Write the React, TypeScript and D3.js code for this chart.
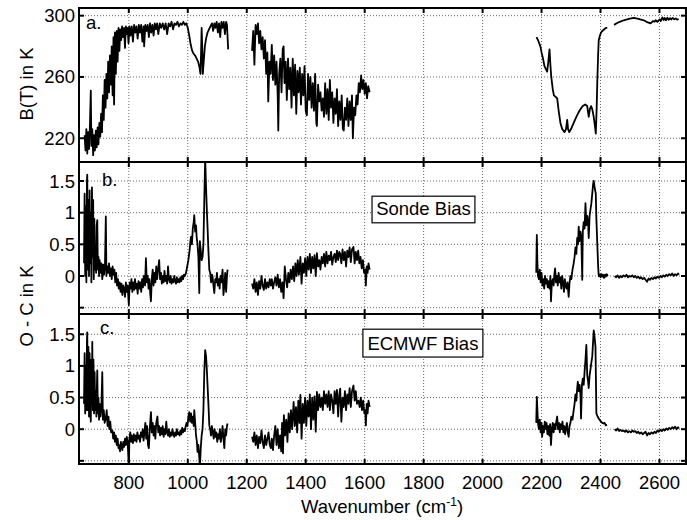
import * as d3 from "d3";

type P = [number, number];

const xTicks = [800, 1000, 1200, 1400, 1600, 1800, 2000, 2200, 2400, 2600];
const btTicks = [220, 260, 300];
const biasTicks = [-0.5, 0, 0.5, 1, 1.5];
const biasTickLabels = ["", "0", "0.5", "1", "1.5"];

// panel a: brightness temperature
const btSeg1: P[] = [[650,222],[653,212],[656,226],[659,210],[662,224],[665,213],[668,228],[671,251],[673,215],[676,226],[679,209],[682,222],[685,212],[688,225],[691,214],[694,227],[697,216],[700,230],[703,221],[706,236],[709,224],[712,248],[715,232],[718,258],[721,240],[724,262],[727,246],[730,270],[733,250],[736,274],[739,255],[742,280],[745,248],[748,286],[750,242],[753,289],[756,262],[759,290],[762,270],[765,292],[768,277],[771,291],[774,284],[777,293],[780,286],[784,292],[787,279],[790,293],[793,288],[796,292],[799,282],[802,293],[806,287],[810,293],[814,283],[818,294],[822,289],[826,293],[830,285],[834,294],[838,289],[842,294],[846,283],[850,293],[852,280],[856,294],[860,290],[864,294],[868,286],[872,295],[876,289],[880,294],[884,287],[888,295],[892,291],[896,295],[900,288],[905,295],[910,292],[915,295],[920,291],[925,295],[930,288],[935,295],[940,293],[945,296],[950,291],[955,295],[960,294],[965,296],[970,293],[975,295],[980,294],[985,296],[990,294],[995,295],[1000,292],[1005,287],[1010,281],[1015,277],[1020,275],[1025,274],[1030,272],[1035,270],[1040,266],[1043,262],[1045,275],[1047,292],[1049,280],[1051,262],[1054,270],[1058,280],[1062,285],[1067,289],[1072,291],[1077,293],[1082,295],[1086,290],[1090,295],[1094,292],[1098,296],[1102,289],[1106,295],[1110,286],[1114,296],[1118,292],[1122,296],[1126,288],[1130,296],[1133,294],[1137,278]];
const btSeg2: P[] = [[1218,277],[1222,290],[1226,268],[1230,294],[1234,288],[1238,295],[1242,282],[1246,290],[1250,278],[1254,286],[1258,272],[1262,284],[1266,262],[1270,276],[1273,244],[1277,270],[1281,262],[1285,281],[1289,258],[1293,274],[1297,255],[1301,270],[1305,248],[1307,225],[1310,262],[1314,272],[1318,250],[1322,278],[1325,280],[1328,256],[1332,270],[1336,245],[1340,272],[1344,252],[1348,266],[1352,240],[1356,272],[1360,248],[1364,268],[1368,236],[1372,264],[1376,250],[1380,266],[1384,242],[1388,262],[1392,248],[1396,267],[1400,238],[1404,235],[1408,262],[1412,245],[1416,260],[1420,240],[1424,256],[1428,238],[1432,262],[1436,230],[1438,228],[1442,255],[1446,244],[1450,250],[1454,238],[1458,246],[1462,234],[1466,256],[1470,236],[1474,252],[1478,232],[1482,258],[1486,240],[1490,250],[1494,230],[1498,246],[1502,236],[1506,252],[1510,228],[1514,244],[1518,232],[1522,248],[1526,226],[1529,225],[1533,240],[1537,232],[1541,246],[1545,228],[1549,244],[1553,232],[1557,248],[1560,220],[1564,240],[1568,235],[1572,248],[1576,242],[1580,256],[1584,250],[1588,261],[1592,252],[1596,258],[1600,249],[1604,256],[1608,246],[1612,254],[1617,250]];
const btSeg3a: P[] = [[2183,286],[2188,284],[2192,282],[2196,280],[2200,276],[2205,272],[2210,267],[2215,265],[2219,263.5],[2223,270],[2227,278],[2230,268],[2233,260],[2238,252],[2242,248],[2248,247],[2253,246],[2258,238],[2264,230],[2270,226],[2278,224],[2283,226],[2287,232],[2290,226],[2294,224],[2300,226],[2309,230],[2318,234],[2326,237],[2332,239],[2340,241],[2348,242],[2355,241],[2360,234],[2364,239],[2368,241],[2372,239],[2377,234],[2381,228],[2384,223],[2387,240],[2389,256],[2392,275],[2394,284],[2398,287],[2402,289],[2406,290],[2412,291],[2418,292],[2423,292]];
const btSeg3b: P[] = [[2446,294],[2455,295],[2465,296],[2479,297],[2490,297.5],[2500,298],[2513,298.5],[2525,298],[2535,297.5],[2547,297],[2556,296],[2563,295.5],[2570,295],[2578,296.5],[2583,296],[2587,297],[2593,296],[2600,297.5],[2604,296.5],[2610,298.8],[2614,297.2],[2618,298.5],[2622,297],[2627,298.6],[2631,297.3],[2636,298.4],[2640,297.5],[2645,298.5],[2650,297.6],[2655,298.2],[2660,297.4],[2665,297.8]];

// panel b: O - C, sonde
const sondeSeg1: P[] = [[648,0.2],[650,1.3],[652,0.0],[654,1.1],[656,-0.1],[658,1.5],[659,1.6],[661,0.1],[663,1.2],[665,0.0],[667,1.35],[669,0.2],[671,1.0],[673,-0.1],[675,1.4],[677,0.3],[679,1.2],[681,-0.05],[683,0.9],[685,0.1],[687,0.3],[689,0.05],[691,0.8],[693,0.88],[695,0.1],[697,0.3],[699,0.0],[701,0.25],[704,0.05],[707,0.2],[710,-0.05],[713,0.18],[716,0.02],[719,0.15],[722,0.94],[724,0.0],[727,0.15],[730,0.05],[733,0.2],[736,0.0],[739,0.12],[742,-0.05],[745,0.15],[748,0.02],[751,0.1],[754,-0.1],[757,0.05],[760,-0.15],[763,-0.05],[766,-0.2],[769,-0.1],[772,-0.25],[775,-0.12],[778,-0.3],[781,-0.15],[784,-0.2],[787,-0.33],[790,-0.1],[793,-0.25],[796,-0.15],[800,-0.46],[803,-0.1],[806,-0.2],[809,-0.05],[812,-0.25],[815,-0.1],[818,-0.22],[821,-0.05],[824,-0.2],[827,-0.12],[830,-0.28],[833,-0.08],[836,-0.2],[839,-0.1],[842,-0.25],[845,-0.05],[848,-0.18],[851,0.0],[855,-0.15],[858,0.28],[861,-0.1],[864,0.0],[867,-0.2],[870,-0.05],[873,-0.3],[875,-0.4],[878,-0.05],[881,0.1],[884,-0.15],[887,0.05],[890,-0.1],[893,0.15],[896,-0.05],[899,0.1],[903,0.25],[906,-0.05],[909,0.05],[912,-0.12],[915,0.0],[918,-0.1],[921,0.08],[924,-0.08],[927,0.0],[930,-0.12],[933,0.15],[936,-0.05],[939,-0.1],[942,0.0],[945,-0.12],[948,-0.05],[951,-0.1],[954,0.0],[957,-0.08],[960,-0.12],[963,-0.02],[966,-0.1],[969,-0.05],[972,-0.1],[975,-0.02],[978,-0.08],[981,0.0],[984,-0.05],[987,0.02],[990,0.0],[994,0.05],[998,0.15],[1002,0.25],[1006,0.4],[1009,0.55],[1011,0.62],[1014,0.5],[1017,0.75],[1020,0.85],[1022,0.96],[1025,0.7],[1028,0.8],[1030,0.62],[1033,0.5],[1036,0.3],[1039,-0.27],[1041,0.55],[1044,0.4],[1047,0.25],[1050,0.3],[1053,0.5],[1056,1.2],[1059,1.85],[1062,1.4],[1065,1.0],[1067,0.78],[1070,0.4],[1073,0.1],[1076,0.05],[1079,-0.1],[1082,0.02],[1084,-0.01],[1087,-0.15],[1090,-0.27],[1093,-0.05],[1096,-0.1],[1099,0.05],[1102,-0.15],[1105,-0.05],[1108,-0.2],[1111,0.0],[1114,-0.1],[1118,0.1],[1121,-0.3],[1124,-0.15],[1127,0.05],[1130,-0.25],[1133,0.0],[1135,0.1]];
const sondeSeg2: P[] = [[1218,-0.12],[1222,-0.2],[1226,-0.05],[1230,-0.25],[1234,-0.1],[1238,-0.3],[1242,-0.08],[1246,-0.2],[1250,0.0],[1254,-0.15],[1258,-0.22],[1262,-0.05],[1266,-0.2],[1270,-0.1],[1274,-0.18],[1278,-0.05],[1282,-0.15],[1285,-0.05],[1289,-0.2],[1293,-0.1],[1297,-0.02],[1301,-0.15],[1305,0.02],[1309,-0.18],[1313,-0.05],[1317,-0.25],[1321,-0.1],[1325,-0.35],[1329,0.15],[1333,-0.05],[1337,-0.18],[1341,0.05],[1345,-0.1],[1349,0.1],[1353,-0.05],[1357,0.15],[1361,-0.08],[1365,0.2],[1369,0.0],[1373,0.25],[1377,0.02],[1382,0.3],[1386,-0.12],[1390,0.2],[1394,0.05],[1398,0.28],[1402,0.0],[1406,0.3],[1410,0.1],[1414,0.35],[1418,0.05],[1422,0.3],[1426,0.12],[1430,0.33],[1434,0.0],[1438,0.36],[1442,0.15],[1446,0.25],[1450,0.1],[1454,0.3],[1458,0.2],[1462,0.35],[1466,0.15],[1470,0.38],[1474,0.2],[1478,0.32],[1482,0.25],[1486,0.38],[1490,0.18],[1494,0.3],[1498,0.35],[1502,0.22],[1506,0.4],[1510,0.25],[1514,0.38],[1517,0.35],[1521,0.2],[1525,0.42],[1529,0.25],[1533,0.38],[1537,0.15],[1541,0.4],[1545,0.3],[1549,0.45],[1553,0.22],[1557,0.42],[1562,0.46],[1566,0.2],[1570,0.38],[1574,0.25],[1578,0.4],[1582,0.2],[1586,0.3],[1590,0.12],[1594,0.25],[1598,0.05],[1602,0.1],[1604,-0.15],[1607,0.15],[1610,0.05],[1613,0.2],[1617,0.1]];
const sondeSeg3a: P[] = [[2182,0.05],[2184,0.65],[2186,0.2],[2188,0.0],[2191,-0.05],[2194,0.1],[2197,-0.1],[2200,0.05],[2203,-0.15],[2206,-0.05],[2209,-0.2],[2212,0.0],[2215,-0.12],[2218,-0.05],[2221,-0.18],[2224,-0.08],[2227,-0.2],[2230,0.0],[2232,-0.4],[2235,-0.1],[2238,-0.05],[2241,-0.15],[2244,0.05],[2246,0.12],[2249,-0.1],[2252,0.0],[2255,-0.15],[2258,0.05],[2261,-0.1],[2264,-0.02],[2267,-0.2],[2270,0.0],[2273,-0.1],[2276,-0.25],[2279,-0.05],[2282,-0.15],[2285,-0.2],[2288,-0.1],[2292,-0.33],[2295,-0.1],[2298,0.0],[2301,-0.05],[2305,0.1],[2309,0.2],[2312,0.3],[2315,0.45],[2318,0.35],[2321,0.6],[2324,0.5],[2326,0.78],[2329,0.55],[2332,0.7],[2335,0.6],[2338,-0.06],[2340,0.7],[2343,0.85],[2346,0.75],[2349,1.15],[2352,0.8],[2355,0.95],[2358,0.85],[2360,0.6],[2363,0.95],[2366,1.05],[2369,1.15],[2372,1.3],[2375,1.45],[2377,1.5],[2380,1.4],[2384,1.3],[2386,0.9],[2389,0.52],[2392,0.15],[2394,0.0],[2397,0.02],[2400,-0.02],[2403,0.03],[2406,-0.01],[2409,0.02],[2412,-0.03],[2415,0.02],[2418,-0.01],[2421,0.03],[2425,0.0]];
const sondeSeg3b: P[] = [[2448,0.0],[2453,-0.02],[2458,0.01],[2463,-0.03],[2468,0.0],[2473,-0.02],[2478,0.01],[2483,-0.01],[2488,0.02],[2493,-0.02],[2498,0.0],[2503,-0.01],[2508,0.01],[2513,-0.02],[2518,0.0],[2523,-0.03],[2528,-0.01],[2533,-0.04],[2538,-0.02],[2543,-0.05],[2548,-0.03],[2553,-0.06],[2558,-0.09],[2563,-0.04],[2568,-0.06],[2573,-0.03],[2578,-0.05],[2583,-0.02],[2588,-0.04],[2593,-0.01],[2598,-0.03],[2603,0.0],[2608,-0.02],[2613,0.01],[2618,-0.01],[2623,0.02],[2628,0.0],[2633,0.03],[2638,0.01],[2643,0.04],[2648,0.0],[2653,0.03],[2658,0.01],[2663,0.04],[2666,0.02]];

// panel c: O - C, ECMWF
const ecmwfSeg1: P[] = [[648,0.4],[650,1.2],[652,0.25],[654,1.0],[656,0.3],[658,1.4],[659,1.53],[661,0.3],[663,1.3],[665,0.2],[667,1.2],[669,0.35],[671,0.12],[673,1.1],[675,0.4],[676,1.38],[678,0.3],[680,1.1],[682,0.25],[684,0.9],[686,0.3],[688,0.6],[690,0.2],[692,0.75],[693,0.93],[695,0.25],[697,0.5],[699,0.15],[701,0.4],[704,0.2],[707,0.35],[710,0.9],[712,0.15],[715,0.3],[718,0.1],[722,0.17],[725,0.3],[728,0.05],[731,0.2],[734,0.0],[737,0.12],[740,-0.05],[744,-0.02],[747,-0.15],[750,-0.05],[753,-0.2],[756,-0.1],[759,-0.25],[762,-0.15],[765,-0.3],[767,-0.25],[770,-0.35],[773,-0.2],[776,-0.3],[778,-0.33],[781,-0.2],[784,-0.28],[787,-0.15],[790,-0.25],[793,-0.12],[796,-0.2],[800,-0.6],[802,-0.15],[805,-0.05],[808,-0.2],[811,-0.1],[814,-0.22],[817,-0.08],[820,-0.18],[823,-0.1],[826,-0.2],[829,-0.05],[832,-0.15],[835,-0.1],[838,-0.2],[841,-0.05],[844,-0.12],[847,0.0],[850,-0.18],[853,-0.05],[856,0.1],[859,-0.15],[862,0.05],[865,-0.25],[868,-0.3],[871,0.0],[875,0.27],[878,-0.05],[881,0.1],[884,-0.1],[887,0.05],[890,-0.15],[893,0.1],[897,0.2],[900,-0.05],[903,0.05],[906,-0.1],[909,0.02],[912,-0.08],[915,0.05],[918,-0.12],[921,0.0],[924,-0.08],[927,0.12],[930,-0.05],[933,-0.1],[936,0.0],[939,-0.12],[942,-0.05],[945,-0.1],[948,0.0],[951,-0.08],[954,-0.12],[957,-0.05],[960,-0.1],[963,0.0],[966,-0.08],[969,-0.05],[972,-0.1],[975,-0.02],[978,-0.08],[981,0.02],[984,-0.05],[987,0.0],[990,-0.03],[993,0.05],[996,0.1],[999,0.05],[1002,0.2],[1005,0.27],[1008,0.12],[1011,0.25],[1014,0.1],[1017,0.2],[1020,0.05],[1022,0.3],[1025,0.1],[1028,-0.1],[1031,-0.2],[1033,-0.36],[1036,-0.25],[1039,-0.45],[1041,-0.6],[1044,-0.3],[1047,-0.1],[1050,0.0],[1053,0.3],[1056,0.9],[1059,1.25],[1062,1.15],[1064,1.0],[1067,0.7],[1070,0.4],[1073,0.06],[1076,0.0],[1079,-0.1],[1082,0.05],[1085,-0.05],[1088,-0.15],[1091,0.0],[1094,-0.12],[1097,-0.05],[1100,-0.2],[1103,-0.08],[1106,-0.15],[1109,0.0],[1112,-0.2],[1115,-0.1],[1118,0.05],[1121,-0.15],[1124,-0.3],[1127,0.0],[1130,-0.1],[1133,0.05],[1135,0.09]];
const ecmwfSeg2: P[] = [[1218,-0.12],[1222,-0.2],[1226,-0.05],[1230,-0.25],[1234,-0.1],[1238,-0.3],[1242,-0.12],[1246,-0.22],[1250,-0.02],[1254,-0.2],[1258,-0.3],[1262,-0.1],[1266,-0.25],[1270,-0.15],[1274,-0.05],[1278,-0.25],[1282,-0.3],[1285,-0.15],[1289,-0.33],[1293,-0.1],[1297,0.05],[1301,-0.25],[1305,0.0],[1309,-0.3],[1313,-0.1],[1317,-0.35],[1320,0.1],[1323,-0.38],[1326,0.22],[1330,-0.1],[1334,0.15],[1338,-0.2],[1342,0.25],[1346,-0.05],[1350,0.3],[1354,0.0],[1359,0.43],[1363,0.05],[1367,0.35],[1371,-0.05],[1375,0.45],[1379,0.1],[1382,0.54],[1386,-0.15],[1390,0.4],[1394,0.1],[1398,0.5],[1402,0.05],[1406,0.45],[1410,0.2],[1414,0.55],[1418,0.0],[1422,0.5],[1426,0.15],[1430,0.52],[1434,-0.04],[1438,0.59],[1442,0.3],[1446,0.55],[1450,0.35],[1454,0.5],[1458,0.3],[1462,0.6],[1466,0.4],[1470,0.55],[1474,0.35],[1478,0.6],[1482,0.3],[1486,0.55],[1490,0.45],[1494,0.25],[1498,0.6],[1502,0.4],[1506,0.62],[1510,0.2],[1514,0.55],[1517,0.64],[1521,0.12],[1525,0.5],[1529,0.35],[1533,0.6],[1537,0.3],[1541,0.55],[1545,0.4],[1549,0.65],[1553,0.35],[1557,0.6],[1562,0.69],[1566,0.45],[1570,0.6],[1574,0.4],[1579,0.45],[1583,0.35],[1587,0.5],[1591,0.3],[1595,0.45],[1599,0.25],[1602,0.3],[1604,0.06],[1607,0.4],[1610,0.25],[1613,0.45],[1617,0.35]];
const ecmwfSeg3a: P[] = [[2182,0.1],[2184,0.51],[2186,0.3],[2188,0.09],[2191,0.0],[2194,0.15],[2197,-0.05],[2200,0.1],[2202,-0.12],[2205,0.05],[2208,-0.05],[2211,0.12],[2214,0.0],[2217,0.1],[2220,-0.08],[2223,0.05],[2226,-0.1],[2229,0.08],[2232,-0.25],[2235,0.0],[2238,0.1],[2241,-0.05],[2244,0.08],[2247,0.0],[2250,0.12],[2253,0.2],[2256,0.0],[2259,0.1],[2262,-0.05],[2265,0.08],[2268,0.0],[2271,0.12],[2274,-0.05],[2277,0.05],[2280,-0.08],[2283,0.02],[2286,0.1],[2289,-0.05],[2292,-0.12],[2295,0.05],[2298,0.1],[2301,0.2],[2305,0.15],[2309,0.3],[2312,0.4],[2315,0.55],[2318,0.45],[2321,0.65],[2323,0.75],[2326,0.6],[2329,0.7],[2332,0.55],[2334,0.17],[2337,0.7],[2340,0.8],[2343,0.7],[2346,0.91],[2349,1.1],[2352,1.33],[2355,0.85],[2358,0.75],[2360,0.65],[2363,0.85],[2366,0.95],[2369,1.05],[2372,1.15],[2375,1.4],[2377,1.56],[2380,1.45],[2383,1.3],[2385,0.6],[2386,0.25],[2390,0.2],[2394,0.17],[2398,0.14],[2402,0.12],[2406,0.1],[2410,0.09],[2414,0.1],[2418,0.06],[2422,0.07]];
const ecmwfSeg3b: P[] = [[2448,0.0],[2453,-0.02],[2458,0.01],[2463,-0.03],[2468,-0.01],[2473,-0.03],[2478,-0.02],[2483,-0.04],[2488,-0.02],[2493,-0.05],[2498,-0.03],[2503,-0.05],[2508,-0.02],[2513,-0.04],[2518,-0.03],[2523,-0.06],[2528,-0.04],[2533,-0.07],[2538,-0.05],[2543,-0.08],[2548,-0.06],[2553,-0.04],[2558,-0.1],[2563,-0.06],[2568,-0.08],[2573,-0.05],[2578,-0.07],[2583,-0.04],[2588,-0.06],[2593,-0.02],[2598,-0.04],[2603,-0.01],[2608,-0.03],[2613,0.0],[2618,-0.02],[2623,0.01],[2628,-0.01],[2633,0.02],[2638,0.0],[2643,0.03],[2648,0.01],[2653,0.04],[2658,0.0],[2663,0.03],[2666,0.01]];

const FONT = "'Liberation Sans', Arial, Helvetica, sans-serif";
const left = 79;
const right = 686;

const x = d3.scaleLinear().domain([631, 2690]).range([left, right]);

function Panel({ id, top, bottom, domain, ticks, tickLabels, segs, tag, tagPos, legend }: any) {
  const y = d3.scaleLinear().domain(domain).range([bottom, top]);
  const line = d3.line<P>().x((d) => x(d[0])).y((d) => y(d[1]));
  const tl = 5;
  return (
    <g>
      <defs>
        <clipPath id={"clip-" + id}>
          <rect x={left} y={top} width={right - left} height={bottom - top} />
        </clipPath>
      </defs>
      {/* grid */}
      {xTicks.map((t) => (
        <line key={"gx" + t} x1={x(t)} x2={x(t)} y1={top} y2={bottom} stroke="#666" strokeWidth={1} strokeDasharray="1 2" />
      ))}
      {ticks.map((t: number) => (
        <line key={"gy" + t} x1={left} x2={right} y1={y(t)} y2={y(t)} stroke="#666" strokeWidth={1} strokeDasharray="1 2" />
      ))}
      {/* data */}
      <g clipPath={`url(#clip-${id})`}>
        {segs.map((s: P[], i: number) => (
          <path key={i} d={line(s) || ""} fill="none" stroke="#000" strokeWidth={1.8} strokeLinejoin="round" />
        ))}
      </g>
      {/* ticks */}
      {xTicks.map((t) => (
        <g key={"tx" + t}>
          <line x1={x(t)} x2={x(t)} y1={top} y2={top + tl} stroke="#000" strokeWidth={2} />
          <line x1={x(t)} x2={x(t)} y1={bottom} y2={bottom - tl} stroke="#000" strokeWidth={2} />
        </g>
      ))}
      {ticks.map((t: number, i: number) => (
        <g key={"ty" + t}>
          <line x1={left} x2={left + tl} y1={y(t)} y2={y(t)} stroke="#000" strokeWidth={2} />
          <line x1={right} x2={right - tl} y1={y(t)} y2={y(t)} stroke="#000" strokeWidth={2} />
          <text x={left - 4} y={y(t) + 6.5} textAnchor="end" fontSize={18.5} fontFamily={FONT}>
            {tickLabels[i]}
          </text>
        </g>
      ))}
      <rect x={left} y={top} width={right - left} height={bottom - top} fill="none" stroke="#000" strokeWidth={2} />
      <text x={x(tagPos[0])} y={y(tagPos[1])} fontSize={18.5} fontFamily={FONT}>{tag}</text>
      {legend && (
        <g>
          <rect x={x(legend.x0)} y={y(legend.y1)} width={x(legend.x1) - x(legend.x0)} height={y(legend.y0) - y(legend.y1)} fill="#fff" stroke="#000" strokeWidth={1.2} />
          <text x={(x(legend.x0) + x(legend.x1)) / 2} y={y(legend.y0) - 7.5} textAnchor="middle" fontSize={18.5} fontFamily={FONT}>{legend.text}</text>
        </g>
      )}
    </g>
  );
}

export default function App() {
  return (
    <svg width={687} height={520} style={{ position: "absolute", left: 0, top: 0, background: "#fff" }}>
      <rect width={687} height={520} fill="#fff" />
      <Panel id="a" top={8} bottom={162} domain={[204.5, 305]} ticks={btTicks} tickLabels={btTicks.map(String)}
        segs={[btSeg1, btSeg2, btSeg3a, btSeg3b]} tag="a." tagPos={[655, 291]} />
      <Panel id="b" top={162} bottom={314} domain={[-0.6, 1.8]} ticks={biasTicks} tickLabels={biasTickLabels}
        segs={[sondeSeg1, sondeSeg2, sondeSeg3a, sondeSeg3b]} tag="b." tagPos={[709, 1.42]}
        legend={{ x0: 1625, x1: 1974, y0: 0.84, y1: 1.26, text: "Sonde Bias" }} />
      <Panel id="c" top={314} bottom={464} domain={[-0.55, 1.82]} ticks={biasTicks} tickLabels={biasTickLabels}
        segs={[ecmwfSeg1, ecmwfSeg2, ecmwfSeg3a, ecmwfSeg3b]} tag="c." tagPos={[702, 1.51]}
        legend={{ x0: 1594, x1: 2001, y0: 1.14, y1: 1.58, text: "ECMWF Bias" }} />
      <text transform="translate(33,84) rotate(-90)" textAnchor="middle" fontSize={18.5} fontFamily={FONT}>B(T) in K</text>
      <text transform="translate(33,306) rotate(-90)" textAnchor="middle" fontSize={18.5} fontFamily={FONT}>O - C in K</text>
      {xTicks.map((t) => (
        <text key={t} x={x(t)} y={489} textAnchor="middle" fontSize={18.5} fontFamily={FONT}>{t}</text>
      ))}
      <text x={382} y={513} textAnchor="middle" fontSize={18.5} fontFamily={FONT}>
        Wavenumber (cm<tspan dy={-7} fontSize={12}>-1</tspan><tspan dy={7}>)</tspan>
      </text>
    </svg>
  );
}
